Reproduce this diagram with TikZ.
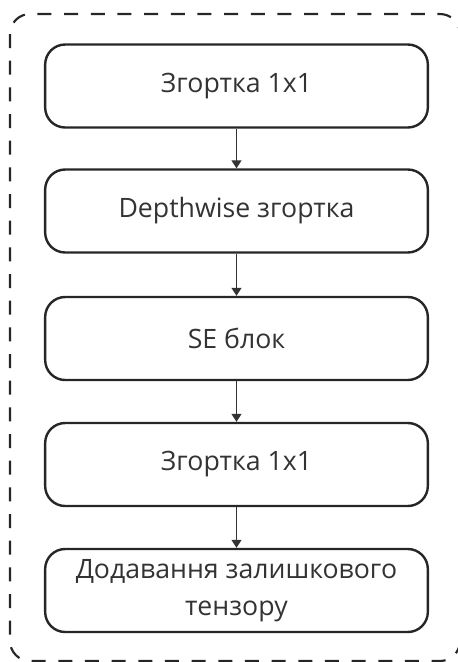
\documentclass[tikz,border=0pt]{standalone}
\usepackage{fontspec}
\setmainfont{Open Sans}
\usetikzlibrary{arrows.meta}

\begin{document}
\begin{tikzpicture}[x=0.75pt, y=-0.75pt, line join=round, block node/.style={rectangle,draw=black!85,line width=1.8pt,rounded corners=15pt,minimum width=287pt,minimum height=62.25pt,inner sep=0pt,align=center,text=black!80,font=\fontsize{20}{28}\selectfont}]%
\useasboundingbox (0,0) rectangle (458,662);
\clip (0,0) rectangle (458,662);
\draw[black!85, line width=1.6pt, dash pattern=on 10.5pt off 9.5pt, rounded corners=15pt] (10,14) rectangle (460,661);
\begin{scope}
\node[block node] (v1) at (236.5,86) {Згортка 1x1};
\node[block node] (v2) at (236.5,211) {Depthwise згортка};
\node[block node] (v3) at (236.5,338.5) {SE блок};
\node[block node] (v4) at (236.5,464.5) {Згортка 1x1};
\node[block node] (v5) at (236.5,590.5) {Додавання залишкового\\тензору};
\end{scope}
\begin{scope}[black!80, line width=1pt, -{Triangle[width=7.5pt,length=6pt]}]
\draw (v1) edge (v2);
\draw (v2) edge (v3);
\draw (v3) edge (v4);
\draw (v4) edge (v5);
\end{scope}
\end{tikzpicture}
\end{document}
